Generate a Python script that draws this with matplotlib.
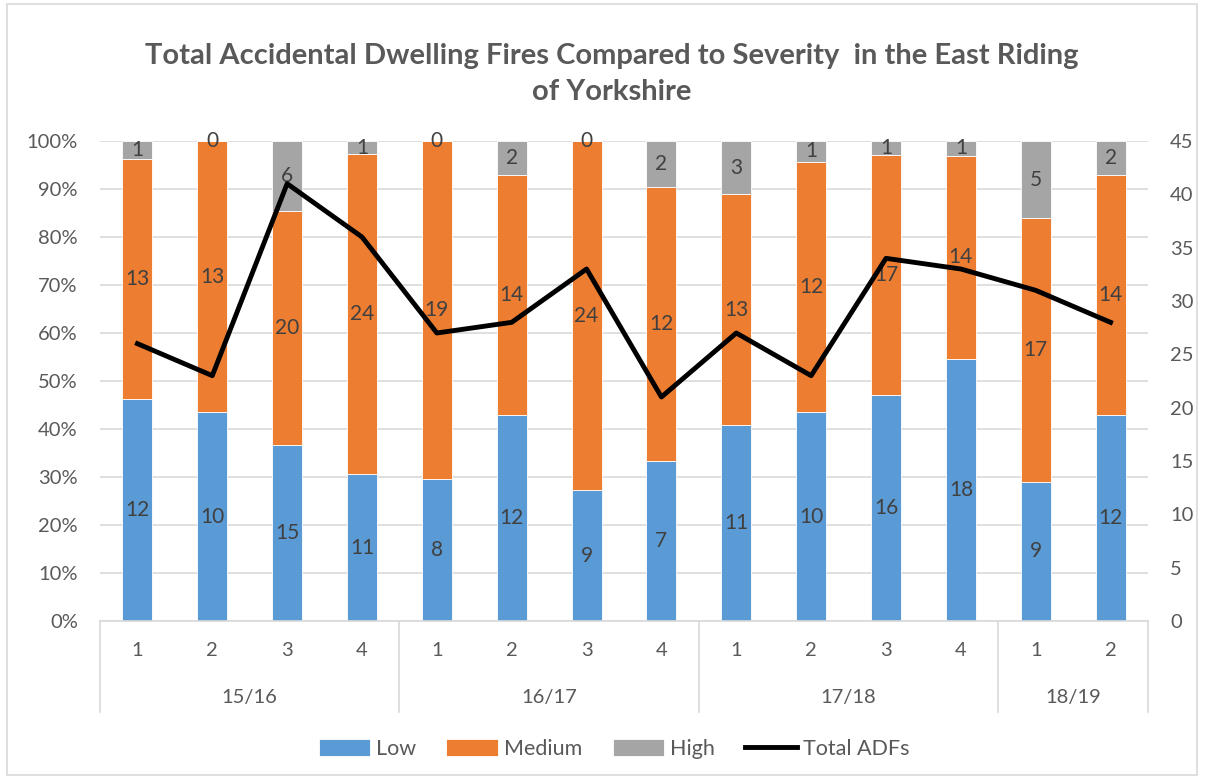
import matplotlib
matplotlib.use("Agg")
import matplotlib.pyplot as plt
import numpy as np
from matplotlib.patches import Rectangle
from matplotlib.lines import Line2D
import matplotlib.transforms as mtransforms

plt.rcParams['font.family'] = ['Lato', 'DejaVu Sans']

quarters = ["1", "2", "3", "4", "1", "2", "3", "4", "1", "2", "3", "4", "1", "2"]
years = ["15/16", "16/17", "17/18", "18/19"]
year_sizes = [4, 4, 4, 2]
low = [12, 10, 15, 11, 8, 12, 9, 7, 11, 10, 16, 18, 9, 12]
medium = [13, 13, 20, 24, 19, 14, 24, 12, 13, 12, 17, 14, 17, 14]
high = [1, 0, 6, 1, 0, 2, 0, 2, 3, 1, 1, 1, 5, 2]
total = [26, 23, 41, 36, 27, 28, 33, 21, 27, 23, 34, 33, 31, 28]

C_LOW = "#5B9BD5"
C_MED = "#ED7D31"
C_HIGH = "#A5A5A5"
TXT = "#595959"
LBL = "#404040"
GRID = "#D9D9D9"
FS = 14.5

W, H = 1205, 778
fig = plt.figure(figsize=(W / 100, H / 100), dpi=100)
ax = fig.add_axes([100 / W, 1 - 621 / H, 1048 / W, 480 / H])

x = np.arange(len(quarters))
low_a = np.array(low, float)
med_a = np.array(medium, float)
high_a = np.array(high, float)
tot_a = low_a + med_a + high_a
lp = low_a / tot_a * 100
mp = med_a / tot_a * 100
hp = high_a / tot_a * 100

bw = 0.4
b1 = ax.bar(x, lp, bw, color=C_LOW, edgecolor="white", linewidth=0.6, label="Low", zorder=2)
b2 = ax.bar(x, mp, bw, bottom=lp, color=C_MED, edgecolor="white", linewidth=0.6, label="Medium", zorder=2)
b3 = ax.bar(x, hp, bw, bottom=lp + mp, color=C_HIGH, edgecolor="white", linewidth=0.6, label="High", zorder=2)

for i in range(len(x)):
    ax.text(x[i], lp[i] / 2, str(low[i]), ha="center", va="center", fontsize=15, color=LBL, zorder=3)
    ax.text(x[i], lp[i] + mp[i] / 2, str(medium[i]), ha="center", va="center", fontsize=15, color=LBL, zorder=3)
    ax.text(x[i], lp[i] + mp[i] + hp[i] / 2, str(high[i]), ha="center", va="center", fontsize=15, color=LBL, zorder=3)

ax.set_xlim(-0.5, len(x) - 0.5)
ax.set_ylim(0, 100)
ax.set_yticks(np.arange(0, 101, 10))
ax.set_yticklabels([f"{v}%" for v in range(0, 101, 10)])
ax.yaxis.grid(True, color=GRID, linewidth=1.2, zorder=0)
ax.set_axisbelow(True)
for s in ["top", "right", "left"]:
    ax.spines[s].set_visible(False)
ax.spines["bottom"].set_color(GRID)
ax.spines["bottom"].set_linewidth(1.2)
ax.tick_params(axis="y", length=0, labelsize=FS, labelcolor=TXT, pad=16)
ax.set_xticks([])

ax2 = ax.twinx()
ax2.set_ylim(0, 45)
ax2.set_yticks(np.arange(0, 46, 5))
ln, = ax2.plot(x, total, color="black", linewidth=3.5, label="Total ADFs", zorder=4)
for s in ["top", "right", "left", "bottom"]:
    ax2.spines[s].set_visible(False)
ax2.tick_params(axis="y", length=0, labelsize=FS, labelcolor=TXT, pad=16)

# multi-level category axis
trans = mtransforms.blended_transform_factory(ax.transData, ax.transAxes)
for i, q in enumerate(quarters):
    ax.text(x[i], -30 / 480, q, transform=trans, ha="center", va="center", fontsize=FS, color=TXT)
edges = [-0.5]
for n in year_sizes:
    edges.append(edges[-1] + n)
for e in edges:
    ax.add_line(Line2D([e, e], [0, -91 / 480], transform=trans, color=GRID, linewidth=1.2, clip_on=False))
for j, yname in enumerate(years):
    cx = (edges[j] + edges[j + 1]) / 2
    ax.text(cx, -76 / 480, yname, transform=trans, ha="center", va="center", fontsize=FS, color=TXT)

fig.text(612 / W, 1 - 74 / H, "Total Accidental Dwelling Fires Compared to Severity  in the East Riding\nof Yorkshire",
         ha="center", va="center", fontsize=21, fontweight="bold", color=TXT, linespacing=1.5)

handles = [b1, b2, b3, ln]
fig.legend(handles, ["Low", "Medium", "High", "Total ADFs"], loc="center", bbox_to_anchor=(614 / W, 1 - 749 / H),
           ncol=4, frameon=False, fontsize=15.5, labelcolor=TXT, handlelength=2.4, handleheight=0.8,
           columnspacing=1.4, handletextpad=0.28)

fig.add_artist(Rectangle((7 / W, 3 / H), 1190 / W, 771 / H, transform=fig.transFigure, fill=False,
                         edgecolor=GRID, linewidth=1.2))

fig.savefig("out.png", dpi=100)
